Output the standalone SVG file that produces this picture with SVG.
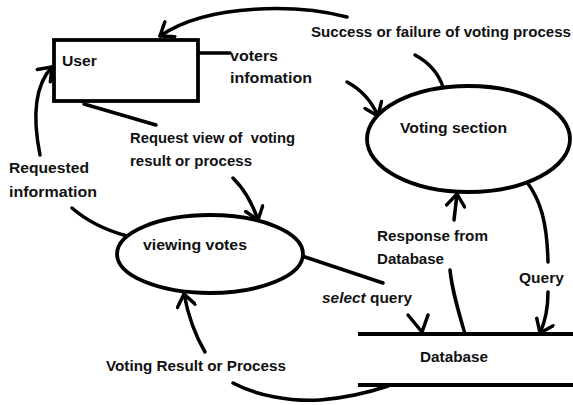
<svg xmlns="http://www.w3.org/2000/svg" width="573" height="405" viewBox="0 0 573 405">
<style>
.t{font-family:"Liberation Sans",Arial,sans-serif;font-size:15px;font-weight:bold;fill:#111;}
.n{fill:#fff;stroke:#000;stroke-width:3.8;}
.c{fill:none;stroke:#000;stroke-width:3.5;stroke-linecap:round;}
.s{fill:none;stroke:#000;stroke-width:4;}
</style>
<defs>
<marker id="ah" viewBox="0 0 12 14" refX="10" refY="7" markerWidth="18" markerHeight="21" markerUnits="userSpaceOnUse" orient="auto">
<path d="M2,1 L10,7 L2,13" fill="none" stroke="#000" stroke-width="2.3" stroke-linecap="round" stroke-linejoin="round"/>
</marker>
</defs>
<rect width="573" height="405" fill="#fff"/>
<g id="connectors">
<path class="c" d="M443,87 C438,72 428,62 415,55"/>
<path class="c" d="M347,17 C300,5 210,2 160,36" marker-end="url(#ah)"/>
<path class="c" d="M200,53 L230,53"/>
<path class="c" d="M347,82 C362,90 372,102 378,116" marker-end="url(#ah)"/>
<path class="c" d="M84,104 L156,125"/>
<path class="c" d="M233,178 C245,190 253,205 258,220" marker-end="url(#ah)"/>
<path class="c" d="M127,236 C105,230 88,222 72,208"/>
<path class="c" d="M40,155 C32,115 35,85 52,67" marker-end="url(#ah)"/>
<path class="c" d="M302,256 L383,283"/>
<path class="c" d="M408,315 L422,332 L428,315"/>
<path class="c" d="M465,334 C458,310 452,290 450,270"/>
<path class="c" d="M454,220 L457,194" marker-end="url(#ah)"/>
<path class="c" d="M527,182 C540,200 547,220 548,262"/>
<path class="c" d="M548,292 C548,310 545,322 540,333" marker-end="url(#ah)"/>
<path class="c" d="M233,383 C255,395 290,402 320,400 C345,398 370,392 388,386"/>
<path class="c" d="M205,352 C195,335 188,315 184,294" marker-end="url(#ah)"/>
</g>
<g id="user">
<rect class="n" x="54" y="40" width="144" height="61"/>
<text class="t" x="62" y="66" textLength="35" lengthAdjust="spacingAndGlyphs">User</text>
</g>
<g id="voting-section">
<ellipse class="n" cx="468.5" cy="139" rx="101.5" ry="53"/>
<text class="t" x="400" y="133" textLength="107" lengthAdjust="spacingAndGlyphs">Voting section</text>
</g>
<g id="viewing-votes">
<ellipse class="n" cx="210" cy="254" rx="93" ry="39"/>
<text class="t" x="143" y="250" textLength="104" lengthAdjust="spacingAndGlyphs">viewing votes</text>
</g>
<g id="database">
<path class="s" d="M358,334 L573,334 M358,385 L573,385"/>
<text class="t" x="420" y="362" textLength="68" lengthAdjust="spacingAndGlyphs">Database</text>
</g>
<g id="labels">
<text class="t" x="311" y="37" textLength="260" lengthAdjust="spacingAndGlyphs">Success or failure of voting process</text>
<text class="t" x="230" y="61" textLength="48" lengthAdjust="spacingAndGlyphs">voters</text>
<text class="t" x="230" y="83" textLength="82" lengthAdjust="spacingAndGlyphs">infomation</text>
<text class="t" x="130" y="143" textLength="165" lengthAdjust="spacingAndGlyphs">Request view of&#160; voting</text>
<text class="t" x="130" y="166" textLength="122" lengthAdjust="spacingAndGlyphs">result or process</text>
<text class="t" x="9" y="173" textLength="80" lengthAdjust="spacingAndGlyphs">Requested</text>
<text class="t" x="9" y="197" textLength="88" lengthAdjust="spacingAndGlyphs">information</text>
<text class="t" x="377" y="241" textLength="111" lengthAdjust="spacingAndGlyphs">Response from</text>
<text class="t" x="377" y="264" textLength="67" lengthAdjust="spacingAndGlyphs">Database</text>
<text class="t" x="519" y="283" textLength="45" lengthAdjust="spacingAndGlyphs">Query</text>
<text class="t" x="322" y="303" textLength="90" lengthAdjust="spacingAndGlyphs"><tspan font-style="italic">select</tspan> query</text>
<text class="t" x="106" y="371" textLength="180" lengthAdjust="spacingAndGlyphs">Voting Result or Process</text>
</g>
</svg>
